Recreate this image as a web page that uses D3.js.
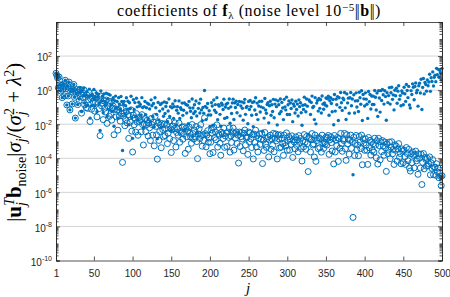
<!DOCTYPE html>
<html><head><meta charset="utf-8">
<script src="https://cdn.jsdelivr.net/npm/d3@7/dist/d3.min.js"></script>
<style>body{margin:0;background:#fff}svg{display:block}</style>
</head><body>
<svg id="c" width="450" height="297"></svg>
<script>
// ---- data ----
const xTicks = [1, 50, 100, 150, 200, 250, 300, 350, 400, 450, 500];
const yTickExps = [-10, -8, -6, -4, -2, 0, 2];
// log10 of the filled-dot series, j = 1..500
const dotExp = [
0.99,0.87,0.72,0.14,0.77,0.32,-0.05,0.29,-0.44,0.06,
0.35,-0.34,0.58,0.08,-0.87,0.23,-0.34,0.47,-1.16,-0.09,
0.07,-0.81,0.04,0.33,-0.42,-1.64,-0.18,0.03,-0.85,-0.13,
-0.52,0.15,-0.12,-1.25,-0.03,-0.34,0.12,-0.76,-0.31,-0.93,
-0.09,-0.87,-0.36,0.06,-1.64,-0.32,-0.92,-0.25,-0.47,0.04,
-0.93,-0.41,-0.16,-1.27,-0.42,-0.24,-0.78,-2.37,-0.05,-0.63,
-0.36,-1.33,-0.23,-0.66,-0.88,-0.18,-1.55,-0.51,-0.24,-1.14,
-0.29,-0.87,-1.26,-0.54,-0.44,-2.12,-0.62,-0.35,-1.07,-0.66,
-1.65,-0.44,-0.82,-1.12,-0.37,-0.67,-3.54,-0.83,-0.66,-1.39,
-0.92,-0.45,-1.12,-0.65,-2.03,-0.74,-1.08,-0.36,-1.61,-2.83,
-0.56,-1.13,-0.73,-1.56,-0.48,-0.98,-1.75,-0.71,-0.94,-0.84,
-1.45,-0.44,-1.02,-2.22,-0.97,-0.67,-1.44,-1.03,-0.76,-1.69,
-0.83,-1.11,-1.86,-0.57,-0.92,-1.54,-0.78,-2.17,-0.45,-1.03,
-1.42,-2.85,-0.72,-1.75,-1.23,-0.84,-2.18,-0.76,-1.11,-1.53,
-0.69,-1.37,-0.96,-0.74,-1.84,-1.22,-0.52,-1.55,-0.97,-2.36,
-1.03,-0.81,-1.66,-0.97,-0.62,-2.04,-1.18,-0.97,-1.35,-0.63,
-1.66,-1.03,-1.13,-0.76,-1.48,-1.18,-0.75,-2.31,-0.84,-1.34,
-0.89,-1.97,-0.66,-1.04,-1.24,-1.62,-0.52,-1.05,-1.37,-0.86,
-1.25,-0.64,-1.52,-2.52,-1.07,-0.77,-1.34,-0.53,-1.16,-1.79,
-1.02,-1.35,-0.02,-0.95,-1.73,-1.04,-0.78,-1.46,-1.21,-2.13,
-1.46,-0.73,-0.93,-2.06,-0.58,-1.18,-0.85,-1.31,-0.44,-1.74,
-0.85,-0.94,-1.42,-2.12,-0.77,-0.87,-1.14,-0.53,-1.66,-0.99,
-0.83,-1.61,-0.76,-1.07,-0.52,-1.94,-0.98,-1.37,-0.75,-0.53,
-1.72,-0.75,-1.02,-0.65,-1.33,-0.84,-2.48,-0.66,-1.51,-0.93,
-0.69,-1.07,-1.76,-0.74,-0.54,-1.42,-1.02,-0.95,-1.97,-0.66,
-1.13,-0.61,-0.96,-1.47,-0.72,-2.14,-0.68,-1.17,-0.45,-1.43,
-0.76,-1.73,-0.93,-0.66,-1.28,-0.98,-0.65,-2.41,-1.04,-1.64,
-0.49,-1.17,-1.36,-0.84,-0.74,-1.92,-0.92,-0.65,-1.47,-0.86,
-1.25,-0.54,-1.62,-0.82,-0.57,-0.97,-2.04,-0.63,-0.86,-1.39,
-0.52,-1.25,-0.72,-1.05,-1.73,-0.54,-0.98,-1.16,-0.41,-1.43,
-0.86,-0.63,-1.43,-0.76,-1.08,-0.58,-1.85,-0.81,-0.94,-1.34,
-0.65,-1.14,-0.82,-1.52,-0.57,-0.97,-0.74,-1.33,-2.06,-0.89,
-1.13,-0.41,-0.86,-1.27,-0.52,-0.94,-2.58,-0.57,-0.65,-1.43,
-0.72,-0.35,-1.02,-0.95,-1.73,-0.44,-1.98,-0.76,-0.61,-1.23,
-0.49,-1.07,-0.56,-1.34,-0.34,-0.82,-1.12,-0.75,-0.87,-0.46,
-0.93,-0.51,-0.36,-1.47,-0.62,-0.44,-0.78,-1.27,-0.55,-2.03,
-0.26,-1.23,-0.53,-0.86,-0.38,-1.78,-0.45,-1.01,-0.14,-0.74,
-1.19,-0.47,-0.56,-0.14,-1.04,-1.72,-0.22,-0.75,-0.47,-1.36,
-0.45,-0.14,-0.92,-0.52,-4.97,-0.27,-1.34,-0.63,-0.16,-0.99,
-0.62,-1.25,-0.12,-0.45,-0.83,-0.04,-1.78,-0.26,-0.51,-0.93,
-0.16,-0.53,-0.83,-1.66,-0.08,-0.68,-0.25,-1.11,-0.34,-0.84,
-0.35,-0.84,-0.02,-0.42,-1.17,-0.17,-1.54,-0.03,-0.46,-1.29,
-0.03,-0.61,0.04,-0.27,-0.82,-0.04,-0.38,-1.77,-0.15,-0.73,
-0.32,0.15,-0.82,-0.15,0.17,-0.54,-0.28,-1.16,-0.01,-0.33,
0.11,-0.77,-0.06,0.26,-0.54,-0.32,-0.92,-0.05,-0.17,-0.86,
0.17,-0.21,-0.66,0.33,-0.02,-0.44,0.22,-0.87,-1.05,-0.03,
-0.26,0.37,0.17,-0.56,0.22,0.42,-0.15,-0.01,-0.94,0.26,
0.41,-0.17,0.64,-1.14,0.16,0.68,-0.22,0.45,0.33,-0.06,
0.60,0.26,0.48,0.93,-0.07,0.73,0.51,1.07,0.24,0.76,
0.88,0.50,1.28,0.90,1.22,0.76,1.17,1.04,0.59,1.27
];
// log10 of the open-circle series, j = 1..500
const circleExp = [
0.99,0.87,0.72,0.14,0.77,0.32,-0.05,0.29,-0.44,0.06,
0.35,-0.34,0.58,0.08,-0.87,0.23,-0.34,0.47,-1.16,-0.09,
0.07,-0.81,0.04,0.33,-0.42,-1.64,-0.18,0.03,-0.85,-0.13,
-0.62,0.05,-0.22,-1.35,-0.13,-0.44,0.02,-0.86,-0.41,-1.03,
-0.29,-1.07,-0.56,-0.14,-1.84,-0.52,-1.12,-0.45,-0.67,-0.16,
-1.23,-0.71,-0.46,-1.57,-0.72,-0.54,-1.08,-2.67,-0.35,-0.93,
-0.76,-1.73,-0.63,-1.06,-1.28,-0.58,-1.95,-0.91,-0.64,-1.54,
-0.79,-1.37,-1.76,-1.04,-0.94,-2.62,-1.12,-0.85,-1.57,-1.16,
-2.35,-1.14,-1.52,-1.82,-1.07,-1.37,-4.24,-1.53,-1.36,-2.09,
-1.72,-1.25,-1.92,-1.45,-2.83,-1.54,-1.88,-1.16,-2.41,-3.63,
-1.46,-2.03,-1.63,-2.46,-1.38,-1.88,-2.65,-1.61,-1.84,-1.74,
-2.45,-1.44,-2.02,-3.22,-1.97,-1.67,-2.44,-2.03,-1.76,-2.69,
-1.93,-2.21,-2.96,-1.67,-2.02,-2.64,-1.88,-3.27,-1.55,-2.13,
-2.62,-4.05,-1.92,-2.95,-2.43,-2.04,-3.38,-1.96,-2.31,-2.73,
-1.99,-2.67,-2.26,-2.04,-3.14,-2.52,-1.82,-2.85,-2.27,-3.66,
-2.33,-2.11,-2.96,-2.27,-1.92,-3.34,-2.48,-2.27,-2.65,-1.93,
-3.06,-2.43,-2.53,-2.16,-2.88,-2.58,-2.15,-3.71,-2.24,-2.74,
-2.39,-3.47,-2.16,-2.54,-2.74,-3.12,-2.02,-2.55,-2.87,-2.36,
-2.75,-2.14,-3.02,-4.02,-2.57,-2.27,-2.84,-2.03,-2.66,-3.29,
-2.62,-2.95,-1.62,-2.55,-3.33,-2.64,-2.38,-3.06,-2.81,-3.73,
-3.06,-2.33,-2.53,-3.66,-2.18,-2.78,-2.45,-2.91,-2.04,-3.34,
-2.55,-2.64,-3.12,-3.82,-2.47,-2.57,-2.84,-2.23,-3.36,-2.69,
-2.53,-3.31,-2.46,-2.77,-2.22,-3.64,-2.68,-3.07,-2.45,-2.23,
-3.52,-2.55,-2.82,-2.45,-3.13,-2.64,-4.28,-2.46,-3.31,-2.73,
-2.49,-2.87,-3.56,-2.54,-2.34,-3.22,-2.82,-2.75,-3.77,-2.46,
-3.03,-2.51,-2.86,-3.37,-2.62,-4.04,-2.58,-3.07,-2.35,-3.33,
-2.66,-3.63,-2.83,-2.56,-3.18,-2.88,-2.55,-4.31,-2.94,-3.54,
-2.49,-3.17,-3.36,-2.84,-2.74,-3.92,-2.92,-2.65,-3.47,-2.86,
-3.25,-2.54,-3.62,-2.82,-2.57,-2.97,-4.04,-2.63,-2.86,-3.39,
-2.62,-3.35,-2.82,-3.15,-3.83,-2.64,-3.08,-3.26,-2.51,-3.53,
-2.96,-2.73,-3.53,-2.86,-3.18,-2.68,-3.95,-2.91,-3.04,-3.44,
-2.75,-3.24,-2.92,-3.62,-2.67,-3.07,-2.84,-3.43,-4.16,-2.99,
-3.33,-2.61,-3.06,-3.47,-2.72,-3.14,-4.78,-2.77,-2.85,-3.63,
-2.92,-2.55,-3.22,-3.15,-3.93,-2.64,-4.18,-2.96,-2.81,-3.43,
-2.79,-3.37,-2.86,-3.64,-2.64,-3.12,-3.42,-3.05,-3.17,-2.76,
-3.23,-2.81,-2.66,-3.77,-2.92,-2.74,-3.08,-3.57,-2.85,-4.33,
-2.66,-3.63,-2.93,-3.26,-2.78,-4.18,-2.85,-3.41,-2.54,-3.14,
-3.59,-2.87,-2.96,-2.54,-3.44,-4.12,-2.62,-3.15,-2.87,-3.76,
-2.95,-2.64,-3.42,-3.02,-7.47,-2.77,-3.84,-3.13,-2.66,-3.49,
-3.22,-3.85,-2.72,-3.05,-3.43,-2.64,-4.38,-2.86,-3.11,-3.53,
-2.86,-3.23,-3.53,-4.36,-2.78,-3.38,-2.95,-3.81,-3.04,-3.54,
-3.15,-3.64,-2.82,-3.22,-3.97,-2.97,-4.34,-2.83,-3.26,-4.09,
-3.03,-3.61,-2.96,-3.27,-3.82,-3.04,-3.38,-4.77,-3.15,-3.73,
-3.52,-3.05,-4.02,-3.35,-3.03,-3.74,-3.48,-4.36,-3.21,-3.53,
-3.29,-4.17,-3.46,-3.14,-3.94,-3.72,-4.32,-3.45,-3.57,-4.26,
-3.53,-3.91,-4.36,-3.37,-3.72,-4.14,-3.48,-4.57,-4.75,-3.73,
-4.26,-3.63,-3.83,-4.56,-3.78,-3.58,-4.15,-4.01,-4.94,-3.74,
-3.99,-4.57,-3.76,-5.54,-4.24,-3.72,-4.62,-3.95,-4.07,-4.46,
-4.00,-4.44,-4.32,-3.92,-4.97,-4.27,-4.59,-4.08,-4.96,-4.54,
-4.52,-5.00,-4.32,-4.80,-4.58,-5.14,-4.83,-5.06,-5.61,-5.03
];

// ---- drawing ----
const AX = '#262626', BLUE = '#0072BD', GRID = '#d4d4d4';
const L = 56, R = 442, T = 22, B = 260.5;
const x = d3.scaleLinear().domain([1, 500]).range([L, R]);
const y = d3.scaleLog().domain([1e-10, 1e4]).range([B, T]);
const svg = d3.select('#c');
const sans = 'Liberation Sans, Arial, Helvetica, sans-serif';
const serif = 'Liberation Serif, Times New Roman, serif';

// grid
svg.append('g').selectAll('line').data(yTickExps.filter(e => e > -10)).join('line')
  .attr('x1', L).attr('x2', R)
  .attr('y1', e => y(Math.pow(10, e))).attr('y2', e => y(Math.pow(10, e)))
  .attr('stroke', GRID).attr('stroke-width', 1);

// markers
const plot = svg.append('g');
plot.selectAll('circle.o').data(circleExp).join('circle').attr('class', 'o')
  .attr('cx', (d, i) => x(i + 1)).attr('cy', d => y(Math.pow(10, d)))
  .attr('r', 3).attr('fill', 'none').attr('stroke', BLUE).attr('stroke-width', 1);
plot.selectAll('circle.d').data(dotExp).join('circle').attr('class', 'd')
  .attr('cx', (d, i) => x(i + 1)).attr('cy', d => y(Math.pow(10, d)))
  .attr('r', 1.7).attr('fill', BLUE);

// x axes (bottom + top, inward ticks)
const xb = svg.append('g').attr('transform', `translate(0,${B})`)
  .call(d3.axisBottom(x).tickValues(xTicks).tickSize(-4).tickPadding(9).tickFormat(d3.format('d')));
const xt = svg.append('g').attr('transform', `translate(0,${T})`)
  .call(d3.axisTop(x).tickValues(xTicks).tickSize(-4).tickFormat(''));
[xb, xt].forEach(g => {
  g.select('.domain').attr('stroke', AX).attr('stroke-width', 0.8);
  g.selectAll('.tick line').attr('stroke', AX).attr('stroke-width', 0.8);
  g.selectAll('.tick text').attr('fill', AX).attr('font-family', sans).attr('font-size', 10);
});

// y axes: major at labelled decades, minor elsewhere
const minorVals = [];
for (let k = -10; k <= 3; k++) for (let m = 1; m <= 9; m++) {
  if (m === 1 && k % 2 === 0) continue;
  minorVals.push(m * Math.pow(10, k));
}
const majorVals = yTickExps.map(e => Math.pow(10, e));
function yAxisPair(axisFn, xpos) {
  const g1 = svg.append('g').attr('transform', `translate(${xpos},0)`)
    .call(axisFn(y).tickValues(majorVals).tickSize(-4).tickFormat(''));
  const g2 = svg.append('g').attr('transform', `translate(${xpos},0)`)
    .call(axisFn(y).tickValues(minorVals).tickSize(-2.5).tickFormat(''));
  [g1, g2].forEach(g => {
    g.select('.domain').attr('stroke', AX).attr('stroke-width', 0.8);
    g.selectAll('.tick line').attr('stroke', AX).attr('stroke-width', 0.8);
  });
}
yAxisPair(d3.axisLeft, L);
yAxisPair(d3.axisRight, R);

// y tick labels 10^k
const yl = svg.append('g').selectAll('text').data(yTickExps).join('text')
  .attr('x', L - 4).attr('y', e => y(Math.pow(10, e)) + 5.3)
  .attr('text-anchor', 'end').attr('fill', AX).attr('font-family', sans).attr('font-size', 10);
yl.append('tspan').text('10');
yl.append('tspan').attr('font-size', 7).attr('dy', -4.5).text(e => String(e));

// title
const title = svg.append('text').attr('x', 249).attr('y', 16).attr('text-anchor', 'middle')
  .attr('font-family', serif).attr('font-size', 16).attr('letter-spacing', 0.6).attr('fill', '#000');
title.append('tspan').text('coefficients of ');
title.append('tspan').attr('font-weight', 'bold').text('f');
title.append('tspan').attr('font-size', 11).attr('dy', 3).text('λ');
title.append('tspan').attr('dy', -3).text(' (noise level 10');
title.append('tspan').attr('font-size', 11).attr('dy', -5.5).text('−5');
title.append('tspan').attr('dy', 5.5).attr('letter-spacing', -1.5).text('||');
title.append('tspan').attr('dx', 2).attr('font-weight', 'bold').text('b');
title.append('tspan').attr('letter-spacing', -1.5).text('||');
title.append('tspan').attr('dx', 2).text(')');

// x label
svg.append('text').attr('x', 248).attr('y', 293).attr('text-anchor', 'middle')
  .attr('font-family', serif).attr('font-style', 'italic').attr('font-size', 15).text('j');

// y label
const ylab = svg.append('text').attr('transform', `translate(21,${(T + B) / 2 + 1}) rotate(-90)`)
  .attr('text-anchor', 'middle').attr('font-family', serif).attr('font-size', 21).attr('fill', '#000');
ylab.append('tspan').text('|');
ylab.append('tspan').attr('font-weight', 'bold').text('u');
ylab.append('tspan').attr('font-size', 14).attr('font-style', 'italic').attr('dy', 4.5).text('j');
ylab.append('tspan').attr('font-size', 14).attr('font-style', 'italic').attr('dx', -3.8).attr('dy', -12).text('T');
ylab.append('tspan').attr('font-weight', 'bold').attr('dy', 7.5).text('b');
ylab.append('tspan').attr('font-size', 14).attr('dy', 4.5).text('noise');
ylab.append('tspan').attr('dy', -4.5).text('|');
ylab.append('tspan').attr('font-style', 'italic').text('σ');
ylab.append('tspan').attr('font-size', 14).attr('font-style', 'italic').attr('dy', 4.5).text('j');
ylab.append('tspan').attr('dy', -4.5).text('/(');
ylab.append('tspan').attr('font-style', 'italic').text('σ');
ylab.append('tspan').attr('font-size', 14).attr('font-style', 'italic').attr('dy', 4.5).text('j');
ylab.append('tspan').attr('font-size', 14).attr('dx', -3.8).attr('dy', -12).text('2');
ylab.append('tspan').attr('dy', 7.5).text(' + ');
ylab.append('tspan').attr('font-style', 'italic').text('λ');
ylab.append('tspan').attr('font-size', 14).attr('dy', -7.5).text('2');
ylab.append('tspan').attr('dy', 7.5).text(')');
</script>
</body></html>
